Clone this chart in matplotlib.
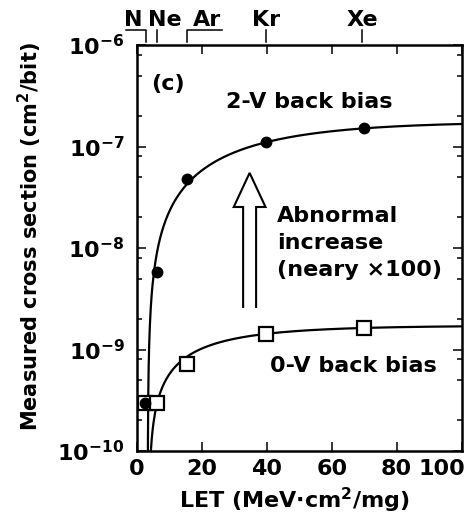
import numpy as np
import matplotlib
matplotlib.use("Agg")
import matplotlib.pyplot as plt
from matplotlib.ticker import LogLocator, NullFormatter, NullLocator, FixedLocator
from matplotlib.lines import Line2D
from matplotlib.transforms import ScaledTranslation

plt.rcParams['font.family'] = ['DejaVu Sans']
plt.rcParams['font.weight'] = 'bold'
plt.rcParams['mathtext.fontset'] = 'custom'
plt.rcParams['mathtext.rm'] = 'DejaVu Sans:bold'
plt.rcParams['mathtext.bf'] = 'DejaVu Sans:bold'
plt.rcParams['mathtext.it'] = 'DejaVu Sans:bold:italic'

# Measured data: LET (MeV cm^2/mg) vs cross section (cm^2/bit)
let_2v = [2.4, 6.2, 15.3, 39.7, 70.0]
sigma_2v = [2.95e-10, 5.8e-9, 4.8e-8, 1.10e-7, 1.52e-7]
let_0v = [2.4, 6.2, 15.3, 39.7, 70.0]
sigma_0v = [2.95e-10, 3.0e-10, 7.2e-10, 1.42e-9, 1.63e-9]

# Weibull fit parameters: saturation, threshold, width, shape
fit_2v = dict(sat=1.75e-7, l0=3.3, w=36.7, s=1.15)
fit_0v = dict(sat=1.72e-9, l0=3.6, w=18.5, s=0.85)

# Ion species along the top: label, tick LET, label position
ion_labels = ['N', 'Ne', 'Ar', 'Kr', 'Xe']
ion_let = [2.8, 6.2, 15.4, 39.8, 69.4]
ion_label_x = [-1.2, 8.6, 21.6, 39.8, 69.4]

xticks = [0, 20, 40, 60, 80, 100]
yticks = [1e-10, 1e-9, 1e-8, 1e-7, 1e-6]
ytick_labels = [r'$10^{-10}$', r'$10^{-9}$', r'$10^{-8}$', r'$10^{-7}$', r'$10^{-6}$']


def weibull(let, sat, l0, w, s):
    d = np.clip(np.asarray(let) - l0, 0, None)
    return sat * (1.0 - np.exp(-(d / w) ** s))


fig = plt.figure(figsize=(4.7, 5.24), dpi=100)
ax = fig.add_axes([0.2915, 0.1393, 0.6905, 0.7748])
ax.set_yscale('log')
ax.set_xlim(0, 100)
ax.set_ylim(1e-10, 1e-6)

# fit curves
for p in (fit_2v, fit_0v):
    xs = p['l0'] + np.concatenate([np.geomspace(1e-6, 1.0, 300), np.linspace(1.0, 100 - p['l0'], 400)[1:]])
    ax.plot(xs, weibull(xs, **p), color='black', lw=1.6, zorder=2)

# data markers
ax.plot(let_0v, sigma_0v, linestyle='none', marker='s', markersize=10.5,
        markerfacecolor='white', markeredgecolor='black', markeredgewidth=1.6, zorder=3)
ax.plot(let_2v, sigma_2v, linestyle='none', marker='o', markersize=7.5,
        markerfacecolor='black', markeredgecolor='black', zorder=4)

# axes styling
for sp in ax.spines.values():
    sp.set_linewidth(1.8)
ax.xaxis.set_major_locator(FixedLocator(xticks))
ax.xaxis.set_minor_locator(NullLocator())
ax.set_xticklabels([str(t) for t in xticks])
ax.yaxis.set_major_locator(FixedLocator(yticks))
ax.set_yticklabels(ytick_labels)
ax.yaxis.set_minor_locator(LogLocator(base=10, subs=[2, 5, 8]))
ax.yaxis.set_minor_formatter(NullFormatter())
ax.tick_params(which='both', direction='in', top=True, right=True, width=1.1)
ax.tick_params(which='major', length=6.5)
ax.tick_params(which='minor', length=3.5)
ax.tick_params(axis='x', which='major', labelsize=16, pad=6)
ax.tick_params(axis='y', which='major', labelsize=16, pad=9)

# keep the last x label inside the figure
last = ax.get_xticklabels()[-1]
last.set_horizontalalignment('right')
last.set_transform(last.get_transform() + ScaledTranslation(3 / 72, 0, fig.dpi_scale_trans))

fig.text(30 / 470, 1 - 237 / 524, r'Measured cross section (cm$^2$/bit)',
         rotation=90, ha='center', va='center', fontsize=15, fontweight='bold')
fig.text(294 / 470, 1 - 500 / 524, r'LET (MeV$\cdot$cm$^2$/mg)',
         ha='center', va='center', fontsize=16, fontweight='bold')

# in-plot annotations
tr = ax.get_xaxis_transform()
ax.text(9.55, 0.904, '(c)', transform=tr, ha='center', va='center', fontsize=16, fontweight='bold')
ax.text(53.2, 0.845, '2-V back bias', transform=tr, ha='center', va='baseline', fontsize=16, fontweight='bold')
ax.text(66.7, 0.195, '0-V back bias', transform=tr, ha='center', va='baseline', fontsize=16, fontweight='bold')
for i, line in enumerate(['Abnormal', 'increase', '(neary \u00d7100)']):
    ax.text(43.1, 0.564 - i * 0.067, line, transform=tr, ha='left', va='baseline',
            fontsize=16, fontweight='bold')

# hollow up arrow (open at the bottom)
ax_tr = ax.transAxes
cx, hw, hh = 0.347, 0.020, 0.049
y_bot, y_base, y_tip = 0.355, 0.601, 0.685
arrow_x = [cx - hw, cx - hw, cx - hh, cx, cx + hh, cx + hw, cx + hw]
arrow_y = [y_bot, y_base, y_base, y_tip, y_base, y_base, y_bot]
ax.add_line(Line2D(arrow_x, arrow_y, transform=ax_tr, color='black', lw=1.5,
                   solid_joinstyle='miter', zorder=3))

# ion species markers above the frame
y_lo, y_hi, y_txt = 1.007, 1.037, 1.062
tick_kw = dict(transform=tr, color='black', lw=1.1, clip_on=False)
ax.add_line(Line2D([-3.4, ion_let[0], ion_let[0]], [y_hi, y_hi, y_lo], **tick_kw))
ax.add_line(Line2D([ion_let[1], ion_let[1]], [y_hi, y_lo], **tick_kw))
ax.add_line(Line2D([ion_let[2], ion_let[2], 26.2], [y_lo, y_hi, y_hi], **tick_kw))
ax.add_line(Line2D([ion_let[3], ion_let[3]], [y_hi, y_lo], **tick_kw))
ax.add_line(Line2D([ion_let[4], ion_let[4]], [y_hi, y_lo], **tick_kw))
for lab, xl in zip(ion_labels, ion_label_x):
    ax.text(xl, y_txt, lab, transform=tr, ha='center', va='center', fontsize=16,
            fontweight='bold', clip_on=False)

fig.savefig('out.png', dpi=100)
